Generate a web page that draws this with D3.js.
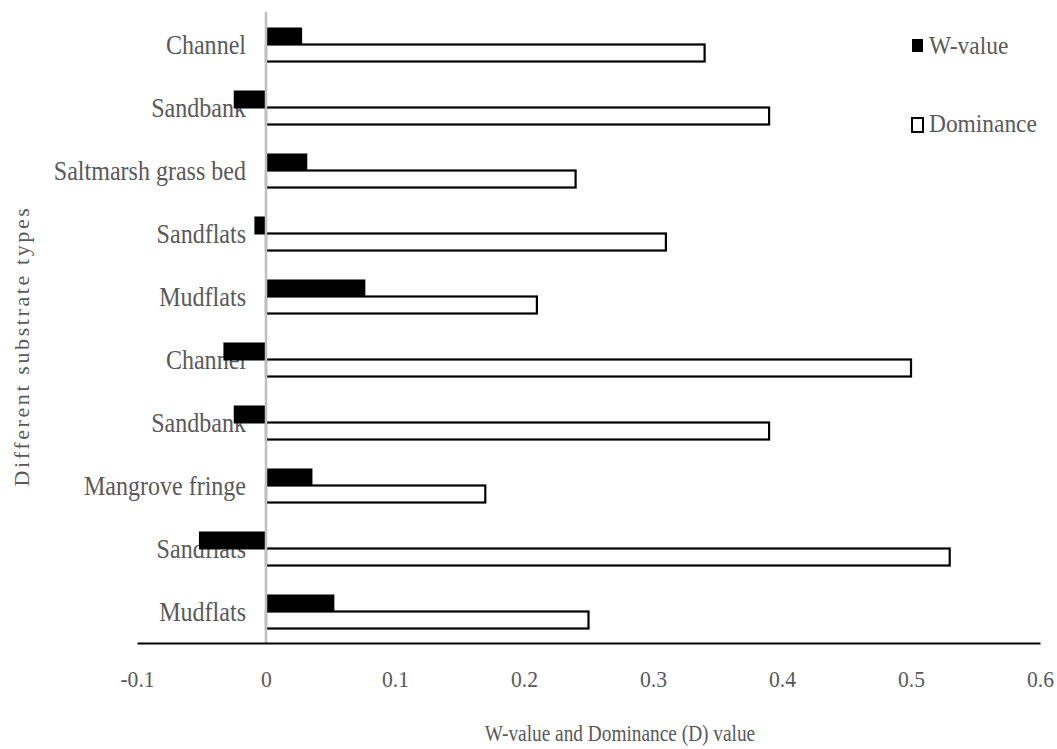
<!DOCTYPE html>
<html>
<head>
<meta charset="utf-8">
<script src="https://cdn.jsdelivr.net/npm/d3@7"></script>
<style>
  html, body { margin: 0; padding: 0; background: #fff; }
  svg { display: block; }
  text { font-family: "Liberation Serif", "Times New Roman", serif; fill: #595959; }
</style>
</head>
<body>
<svg id="chart" width="1057" height="749"></svg>
<script>
const categories = ["Channel", "Sandbank", "Saltmarsh grass bed", "Sandflats", "Mudflats",
                    "Channel", "Sandbank", "Mangrove fringe", "Sandflats", "Mudflats"];
const wValues = [0.028, -0.025, 0.032, -0.009, 0.077, -0.033, -0.025, 0.036, -0.052, 0.053];
const dominanceValues = [0.34, 0.39, 0.24, 0.31, 0.21, 0.50, 0.39, 0.17, 0.53, 0.25];
const seriesNames = ["W-value", "Dominance"];
const xTicks = [-0.1, 0, 0.1, 0.2, 0.3, 0.4, 0.5, 0.6];
const xTickLabels = ["-0.1", "0", "0.1", "0.2", "0.3", "0.4", "0.5", "0.6"];
const xTitle = "W-value and Dominance (D) value";
const yTitle = "Different substrate types";

const svg = d3.select("#chart");
const serif = "'Liberation Serif', 'Times New Roman', serif";

// horizontally condense text (reference glyphs are tall and narrow)
function condense(sel, factor) {
  sel.each(function () {
    const l = this.getComputedTextLength();
    this.setAttribute("textLength", (l * factor).toFixed(1));
    this.setAttribute("lengthAdjust", "spacingAndGlyphs");
  });
}

const x = d3.scaleLinear().domain([-0.1, 0.6]).range([137, 1040]);
const idx = categories.map((d, i) => i);
const y = d3.scaleBand().domain(idx).range([13, 643]).paddingInner(0.46).paddingOuter(0.23);
const ySub = d3.scaleBand().domain(seriesNames).range([0, y.bandwidth()]);

// category labels (drawn first, bars overlap them)
const yAxis = svg.append("g")
  .attr("transform", "translate(258,0)")
  .call(d3.axisLeft(y).tickSize(0).tickPadding(12).tickFormat(i => categories[i]));
yAxis.select(".domain").remove();
yAxis.selectAll("text")
  .style("font-family", serif)
  .style("font-size", "27px")
  .attr("fill", "#595959")
  .attr("dy", "0.34em")
  .call(condense, 0.89);

// W-value bars
svg.append("g").selectAll("rect")
  .data(wValues)
  .join("rect")
  .attr("x", d => Math.min(x(0), x(d)))
  .attr("width", d => Math.abs(x(d) - x(0)))
  .attr("y", (d, i) => y(i) + ySub("W-value"))
  .attr("height", ySub.bandwidth() + 1)
  .attr("fill", "#000");

// Dominance bars
svg.append("g").selectAll("rect")
  .data(dominanceValues)
  .join("rect")
  .attr("x", x(0))
  .attr("width", d => x(d) - x(0))
  .attr("y", (d, i) => y(i) + ySub("Dominance"))
  .attr("height", ySub.bandwidth())
  .attr("fill", "#fff")
  .attr("stroke", "#000")
  .attr("stroke-width", 2.2);

// vertical zero axis line
svg.append("line")
  .attr("x1", x(0)).attr("x2", x(0))
  .attr("y1", 12).attr("y2", 643)
  .attr("stroke", "#bfbfbf")
  .attr("stroke-width", 2.5);

// bottom axis
const xAxis = svg.append("g")
  .attr("transform", "translate(0,643)")
  .call(d3.axisBottom(x).tickValues(xTicks).tickSize(0).tickPadding(27)
        .tickFormat((d, i) => xTickLabels[i]));
xAxis.select(".domain").attr("stroke", "#000").attr("stroke-width", 2.2);
xAxis.selectAll("text")
  .style("font-family", serif)
  .style("font-size", "24px")
  .attr("fill", "#595959")
  .call(condense, 0.9);

// axis titles
svg.append("text")
  .attr("x", 620).attr("y", 741)
  .attr("text-anchor", "middle")
  .style("font-size", "23px")
  .text(xTitle)
  .call(condense, 0.84);

svg.append("text")
  .attr("transform", "translate(29,346) rotate(-90)")
  .attr("text-anchor", "middle")
  .style("font-size", "22px")
  .style("letter-spacing", "2.6px")
  .text(yTitle);

// legend
const legend = svg.append("g");
legend.append("rect")
  .attr("x", 912).attr("y", 39).attr("width", 11).attr("height", 13)
  .attr("fill", "#000");
legend.append("text")
  .attr("x", 929).attr("y", 54)
  .style("font-size", "26px")
  .text(seriesNames[0])
  .call(condense, 0.9);
legend.append("rect")
  .attr("x", 912).attr("y", 118).attr("width", 11).attr("height", 14)
  .attr("fill", "#fff").attr("stroke", "#000").attr("stroke-width", 2);
legend.append("text")
  .attr("x", 929).attr("y", 132)
  .style("font-size", "26px")
  .text(seriesNames[1])
  .call(condense, 0.9);
</script>
</body>
</html>
